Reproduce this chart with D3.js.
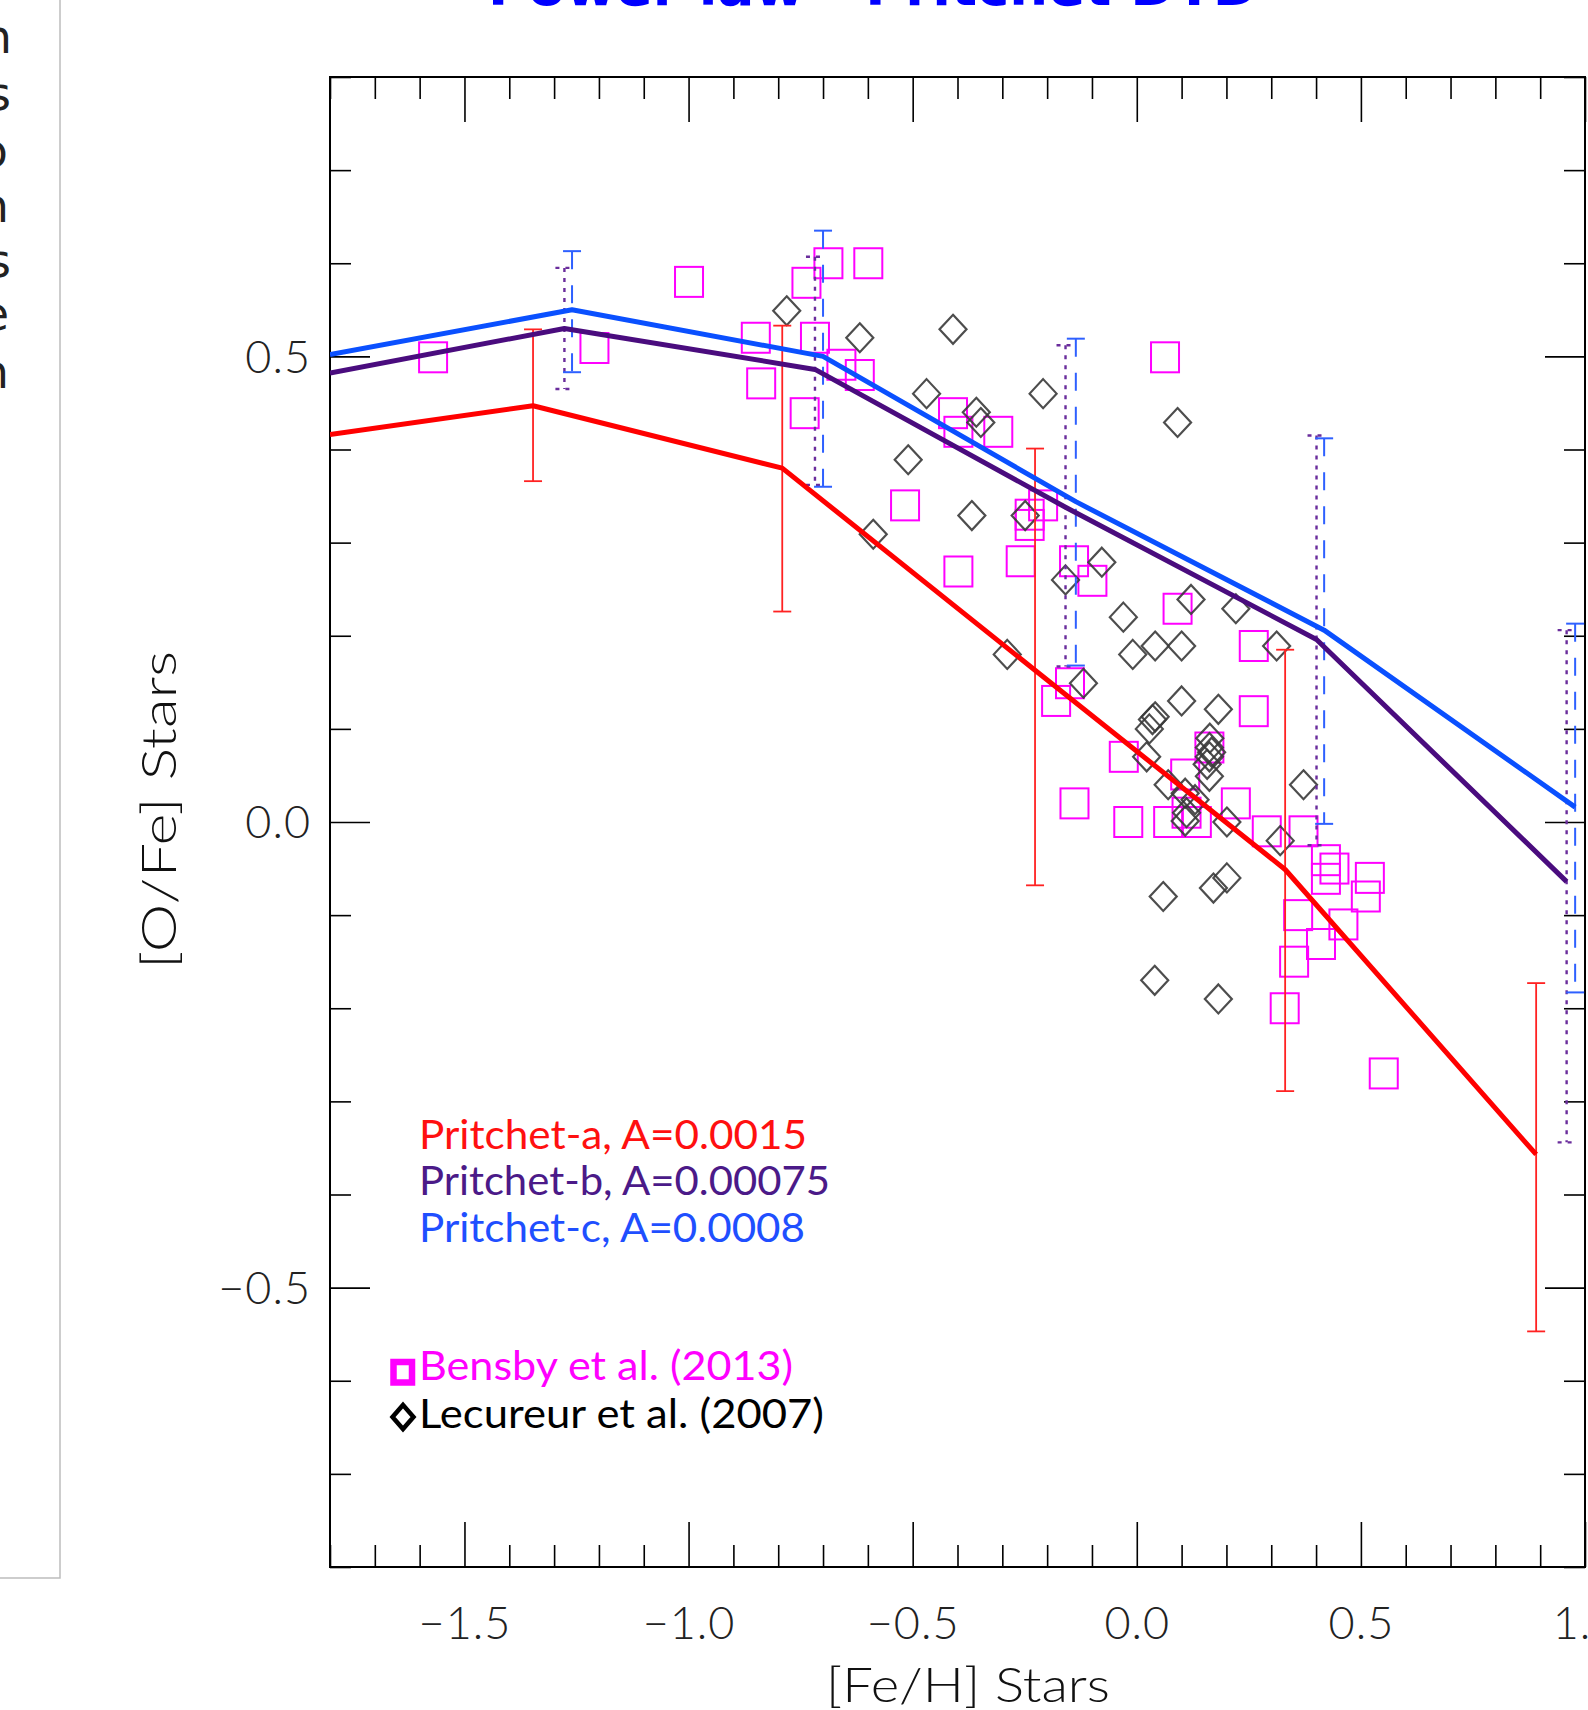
<!DOCTYPE html>
<html><head><meta charset="utf-8">
<script src="https://cdn.jsdelivr.net/npm/d3@7"></script>
<style>html,body{margin:0;padding:0;background:#fff;overflow:hidden}svg{display:block}</style>
</head><body><svg id="c"></svg>
<script>
// ---------------- data ----------------
const bensbyFeH = [-1.570,-1.210,-0.999,-0.850,-0.838,-0.737,-0.688,-0.599,-0.718,-0.741,-0.659,-0.618,-0.410,-0.398,-0.309,-0.517,-0.209,-0.239,-0.239,-0.398,-0.259,-0.140,-0.099,0.063,0.091,0.261,0.261,-0.149,-0.180,-0.029,-0.139,-0.019,0.070,0.108,0.111,0.162,0.221,0.290,0.372,0.422,0.441,0.422,0.520,0.511,0.461,0.360,0.411,0.351,0.330,0.134,0.551];
const bensbyOFe = [0.499,0.509,0.580,0.520,0.471,0.579,0.600,0.600,0.520,0.439,0.491,0.480,0.439,0.419,0.419,0.340,0.340,0.330,0.319,0.269,0.280,0.280,0.259,0.499,0.229,0.189,0.119,0.149,0.130,0.070,0.020,0.000,0.000,0.051,0.010,0.080,0.020,-0.010,-0.010,-0.041,-0.050,-0.061,-0.060,-0.080,-0.110,-0.100,-0.131,-0.150,-0.200,0.000,-0.270];

const lecureurFeH = [-0.781,-0.618,-0.410,-0.469,-0.358,-0.348,-0.209,-0.510,-0.368,-0.249,-0.588,-0.159,-0.078,-0.030,0.091,0.121,0.221,0.041,0.100,0.312,0.100,0.182,0.041,0.163,-0.289,-0.119,-0.009,0.035,0.028,0.022,0.070,0.108,0.111,0.108,0.059,0.040,0.162,0.162,0.162,0.130,0.201,0.320,0.372,0.171,0.201,0.182,0.167,0.157];
const lecureurOFe = [0.549,0.520,0.529,0.460,0.440,0.429,0.460,0.389,0.329,0.329,0.309,0.260,0.279,0.220,0.429,0.239,0.229,0.189,0.189,0.189,0.130,0.121,0.113,0.090,0.180,0.149,0.180,0.110,0.100,0.070,0.040,0.031,0.010,0.001,-0.080,-0.170,0.070,0.080,0.049,0.024,0.000,-0.020,0.040,-0.071,-0.060,-0.190,0.075,0.062];

// model a (red)
const modelAFeH = [-1.8,-1.347,-0.791,-0.227,0.331,0.891];
const modelAOFe = [0.416,0.447,0.380,0.163,-0.051,-0.357];
const modelAErrFeH = [-1.347,-0.791,-0.227,0.331,0.891];
const modelAErrLo = [0.366,0.226,-0.068,-0.289,-0.547];
const modelAErrHi = [0.529,0.533,0.401,0.185,-0.173];
// model b (purple)
const modelBFeH = [-1.8,-1.277,-0.718,-0.159,0.401,0.959];
const modelBOFe = [0.482,0.530,0.486,0.338,0.196,-0.064];
const modelBErrFeH = [-1.277,-0.718,-0.159,0.401,0.959];
const modelBErrLo = [0.465,0.362,0.167,-0.025,-0.344];
const modelBErrHi = [0.595,0.607,0.512,0.415,0.206];
// model c (blue)
const modelCFeH = [-1.8,-1.260,-0.700,-0.136,0.418,0.978];
const modelCOFe = [0.502,0.550,0.500,0.344,0.206,0.016];
const modelCErrFeH = [-1.260,-0.700,-0.136,0.418,0.978];
const modelCErrLo = [0.483,0.360,0.168,-0.002,-0.183];
const modelCErrHi = [0.613,0.635,0.519,0.412,0.213];

const xTickValues = [-1.5,-1.0,-0.5,0.0,0.5,1.0];
const xTickLabels = ["\u22121.5","\u22121.0","\u22120.5","0.0","0.5","1.0"];
const yTickValues = [-0.5,0.0,0.5];
const yTickLabels = ["\u22120.5","0.0","0.5"];

const modelLabels = ["Pritchet-a, A=0.0015","Pritchet-b, A=0.00075","Pritchet-c, A=0.0008"];
const dataLabels = ["Bensby et al. (2013)","Lecureur et al. (2007)"];
const titleText = "Power law - Pritchet DTD";
const xTitle = "[Fe/H] Stars";
const yTitle = "[O/Fe] Stars";
const sideLetters = ["n","s","o","n","s","e","n"];

// ---------------- layout ----------------
const W = 1588, H = 1710;
const L = 330, R = 1585, T = 77, B = 1567;
const FONT = "Lato, 'Liberation Sans', 'DejaVu Sans', sans-serif";

const svg = d3.select('#c').attr('width', W).attr('height', H);
svg.append('rect').attr('width', W).attr('height', H).attr('fill', '#fff');

const x = d3.scaleLinear().domain([-1.8, 1.0]).range([L, R]);
const y = d3.scaleLinear().domain([-0.8, 0.8]).range([B, T]);

// left page panel
svg.append('path').attr('d', `M60,0 L60,1578 L0,1578`).attr('fill','none').attr('stroke','#bdbdbd').attr('stroke-width',1.5);
const sideX = [12, 11, 8, 9, 11, 9, 9];
const sideY = [53, 110, 167, 222, 277, 330, 388];
svg.append('g').selectAll('text').data(sideLetters).join('text')
  .attr('x', (d,i)=>sideX[i]).attr('y', (d,i)=>sideY[i])
  .attr('text-anchor','end').attr('font-family',"'DejaVu Sans', sans-serif").attr('font-size',46)
  .attr('fill','#222').text(d=>d);

// title (mostly cut off)
svg.append('text').attr('x', 488).attr('y', 5).attr('font-family',"'DejaVu Sans', sans-serif")
  .attr('font-weight','bold').attr('font-size',54).attr('fill','#0000ff')
  .attr('textLength',770).attr('lengthAdjust','spacingAndGlyphs').text(titleText);

// clip
svg.append('clipPath').attr('id','plotclip').append('rect').attr('x',L).attr('y',T).attr('width',R-L).attr('height',B-T);

// ---------------- axes ----------------
const minorX = x.ticks(28).filter(v => Math.abs(v*2 - Math.round(v*2)) > 1e-6);
const minorY = y.ticks(16).filter(v => Math.abs(v*2 - Math.round(v*2)) > 1e-6);

function clean(sel){
  sel.select('.domain').remove();
  sel.selectAll('line').attr('stroke','#000').attr('stroke-width',1.6);
  sel.attr('font-family', FONT).attr('font-size', 45);
}
const ax = svg.append('g');
// bottom
ax.append('g').attr('transform',`translate(0,${B})`)
  .call(d3.axisBottom(x).tickValues(xTickValues).tickSize(-45).tickFormat((d,i)=>xTickLabels[i]))
  .call(clean)
  .selectAll('text').attr('y',72).attr('dy',null).attr('fill','#222').attr('font-weight',300).attr('letter-spacing',1);
ax.append('g').attr('transform',`translate(0,${B})`)
  .call(d3.axisBottom(x).tickValues(minorX).tickSize(-22).tickFormat('')).call(clean);
// top
ax.append('g').attr('transform',`translate(0,${T})`)
  .call(d3.axisTop(x).tickValues(xTickValues).tickSize(-45).tickFormat('')).call(clean);
ax.append('g').attr('transform',`translate(0,${T})`)
  .call(d3.axisTop(x).tickValues(minorX).tickSize(-22).tickFormat('')).call(clean);
// left
ax.append('g').attr('transform',`translate(${L},0)`)
  .call(d3.axisLeft(y).tickValues(yTickValues).tickSize(-40).tickFormat((d,i)=>yTickLabels[i]))
  .call(clean)
  .selectAll('text').attr('x',-19).attr('dy','0.35em').attr('fill','#222').attr('font-weight',300).attr('letter-spacing',1);
ax.append('g').attr('transform',`translate(${L},0)`)
  .call(d3.axisLeft(y).tickValues(minorY).tickSize(-21).tickFormat('')).call(clean);
// right
ax.append('g').attr('transform',`translate(${R},0)`)
  .call(d3.axisRight(y).tickValues(yTickValues).tickSize(-40).tickFormat('')).call(clean);
ax.append('g').attr('transform',`translate(${R},0)`)
  .call(d3.axisRight(y).tickValues(minorY).tickSize(-21).tickFormat('')).call(clean);

// frame
svg.append('rect').attr('x',L).attr('y',T).attr('width',R-L).attr('height',B-T)
  .attr('fill','none').attr('stroke','#000').attr('stroke-width',2);

// axis titles
svg.append('text').attr('x', 826).attr('y', 1702).attr('font-family',FONT).attr('font-weight',300)
  .attr('font-size',48).attr('fill','#111').attr('textLength',284).attr('lengthAdjust','spacingAndGlyphs').text(xTitle);
svg.append('text').attr('transform','translate(176,969) rotate(-90)').attr('font-family',FONT).attr('font-weight',300)
  .attr('font-size',48).attr('fill','#111').attr('textLength',318).attr('lengthAdjust','spacingAndGlyphs').text(yTitle);

// ---------------- data points ----------------
const plot = svg.append('g').attr('clip-path','url(#plotclip)');
const bensby = bensbyFeH.map((v,i)=>({x:v, y:bensbyOFe[i]}));
const lecureur = lecureurFeH.map((v,i)=>({x:v, y:lecureurOFe[i]}));

plot.append('g').selectAll('rect').data(bensby).join('rect')
  .attr('x', d=>x(d.x)-14).attr('y', d=>y(d.y)-15).attr('width',28).attr('height',30)
  .attr('fill','none').attr('stroke','#ff00ff').attr('stroke-width',2);

const diamond = (cx,cy,hw,hh)=>`M${cx},${cy-hh}L${cx+hw},${cy}L${cx},${cy+hh}L${cx-hw},${cy}Z`;
plot.append('g').selectAll('path').data(lecureur).join('path')
  .attr('d', d=>diamond(x(d.x), y(d.y), 13.5, 14.5))
  .attr('fill','none').attr('stroke','#3a3a3a').attr('stroke-width',2.2).attr('stroke-opacity',0.9);

// ---------------- models ----------------
const models = [
  {fx:modelAFeH, fy:modelAOFe, ex:modelAErrFeH, lo:modelAErrLo, hi:modelAErrHi, line:'#ff0000', err:'#ff2222', dash:null, ew:1.8},
  {fx:modelBFeH, fy:modelBOFe, ex:modelBErrFeH, lo:modelBErrLo, hi:modelBErrHi, line:'#4a0c7e', err:'#6a2d9c', dash:'4,6', ew:2.4},
  {fx:modelCFeH, fy:modelCOFe, ex:modelCErrFeH, lo:modelCErrLo, hi:modelCErrHi, line:'#0a50ff', err:'#2e60ff', dash:'18,16', ew:2}
];
const lineGen = d3.line().x(d=>x(d[0])).y(d=>y(d[1]));
models.forEach(m=>{
  const eg = plot.append('g').attr('stroke', m.err).attr('stroke-width', m.ew).attr('fill','none');
  if (m.dash) eg.attr('stroke-dasharray', m.dash);
  m.ex.forEach((v,i)=>{
    const cx = x(v), y0 = y(m.lo[i]), y1 = y(m.hi[i]);
    eg.append('path').attr('d', `M${cx},${y1}L${cx},${y0}`);
    eg.append('path').attr('d', `M${cx-9},${y1}L${cx+9},${y1}`);
    eg.append('path').attr('d', `M${cx-9},${y0}L${cx+9},${y0}`);
  });
});
models.forEach(m=>{
  plot.append('path').datum(m.fx.map((v,i)=>[v, m.fy[i]])).attr('d', lineGen)
    .attr('fill','none').attr('stroke', m.line).attr('stroke-width', 5).attr('stroke-linejoin','round');
});

// ---------------- legend ----------------
const modelColors = ['#ff1010','#4b1a88','#1f4fff'];
const modelBase = [1149, 1195, 1242];
const modelLen = [388, 411, 386];
svg.append('g').selectAll('text').data(modelLabels).join('text')
  .attr('x', 419).attr('y', (d,i)=>modelBase[i]).attr('font-family',FONT).attr('font-size',40)
  .attr('fill',(d,i)=>modelColors[i]).attr('textLength',(d,i)=>modelLen[i]).attr('lengthAdjust','spacingAndGlyphs').text(d=>d);

const dataColors = ['#ff00ff','#000'];
const dataBase = [1380, 1428];
const dataLen = [374, 405];
svg.append('g').selectAll('text').data(dataLabels).join('text')
  .attr('x', 419).attr('y', (d,i)=>dataBase[i]).attr('font-family',FONT).attr('font-size',40)
  .attr('fill',(d,i)=>dataColors[i]).attr('textLength',(d,i)=>dataLen[i]).attr('lengthAdjust','spacingAndGlyphs').text(d=>d);
svg.append('rect').attr('x',393.5).attr('y',1362).attr('width',18.5).attr('height',20.5)
  .attr('fill','#fff').attr('stroke','#ff00ff').attr('stroke-width',6.5);
svg.append('path').attr('d', diamond(403, 1417, 10.5, 12)).attr('fill','none').attr('stroke','#000').attr('stroke-width',4.5);
</script></body></html>
